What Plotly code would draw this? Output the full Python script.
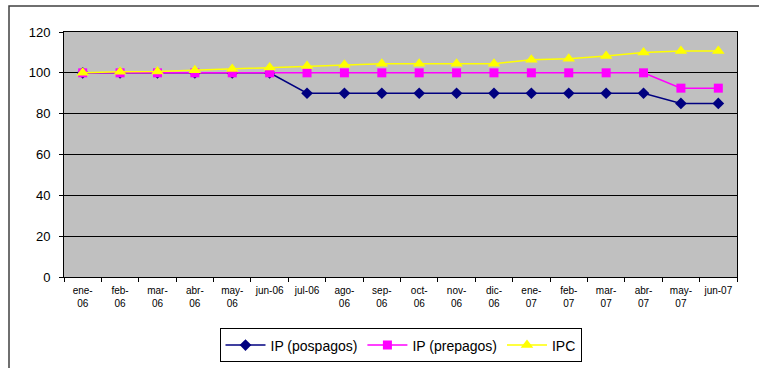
import plotly.graph_objects as go

months = ["ene-<br>06", "feb-<br>06", "mar-<br>06", "abr-<br>06", "may-<br>06", "jun-06",
          "jul-06", "ago-<br>06", "sep-<br>06", "oct-<br>06", "nov-<br>06", "dic-<br>06",
          "ene-<br>07", "feb-<br>07", "mar-<br>07", "abr-<br>07", "may-<br>07", "jun-07"]
pospagos = [100, 100, 100, 100, 100, 100, 90, 90, 90, 90, 90, 90, 90, 90, 90, 90, 85, 85]
prepagos = [100, 100, 100, 100, 100, 100, 100, 100, 100, 100, 100, 100, 100, 100, 100, 100, 92.5, 92.5]
ipc = [100, 100.5, 100.6, 101.3, 101.9, 102.6, 103.3, 104.0, 104.5, 104.5, 104.5, 104.5,
       106.4, 106.9, 108.3, 109.9, 110.7, 110.7]
y_ticks = [0, 20, 40, 60, 80, 100, 120]

fig = go.Figure()
fig.add_trace(go.Scatter(x=months, y=pospagos, name="IP (pospagos)", mode="lines+markers",
                         line=dict(color="#000080", width=1.5),
                         marker=dict(symbol="diamond", size=9, color="#000080")))
fig.add_trace(go.Scatter(x=months, y=prepagos, name="IP (prepagos)", mode="lines+markers",
                         line=dict(color="#FF00FF", width=1.5),
                         marker=dict(symbol="square", size=9, color="#FF00FF")))
fig.add_trace(go.Scatter(x=months, y=ipc, name="IPC", mode="lines+markers",
                         line=dict(color="#FFFF00", width=1.5),
                         marker=dict(symbol="triangle-up", size=11, color="#FFFF00")))

fig.update_layout(
    width=759, height=368,
    margin=dict(l=64, r=22, t=32, b=91, autoexpand=False),
    paper_bgcolor="white", plot_bgcolor="#C0C0C0",
    font=dict(family="Liberation Sans, Arial, sans-serif", color="black"),
    showlegend=True,
    legend=dict(orientation="h", x=0.5, xanchor="center", y=-0.21, yanchor="top",
                bordercolor="black", borderwidth=1, bgcolor="white",
                font=dict(size=14), itemwidth=40, tracegroupgap=0),
    shapes=[dict(type="rect", xref="paper", yref="paper",
                 x0=-55/673, x1=1.2, y0=-0.6, y1=1 + 26/245,
                 line=dict(color="#404040", width=1.5), fillcolor="rgba(0,0,0,0)", layer="below")],
)
fig.update_xaxes(type="category", range=[-0.5, 17.5], autorange=False, automargin=False,
                 tickson="boundaries", ticks="outside", ticklen=4, ticklabelstandoff=4,
                 tickcolor="black", showline=True, linecolor="black", linewidth=1,
                 mirror=True, showgrid=False, tickfont=dict(size=10), tickangle=0)
fig.update_yaxes(range=[0, 120], tickvals=y_ticks, ticks="outside", ticklen=4, automargin=False,
                 ticklabelstandoff=6,
                 tickcolor="black", showline=True, linecolor="black", linewidth=1,
                 mirror=True, showgrid=True, gridcolor="black", gridwidth=1,
                 zeroline=False, tickfont=dict(size=13))

fig.write_html("out.html")
